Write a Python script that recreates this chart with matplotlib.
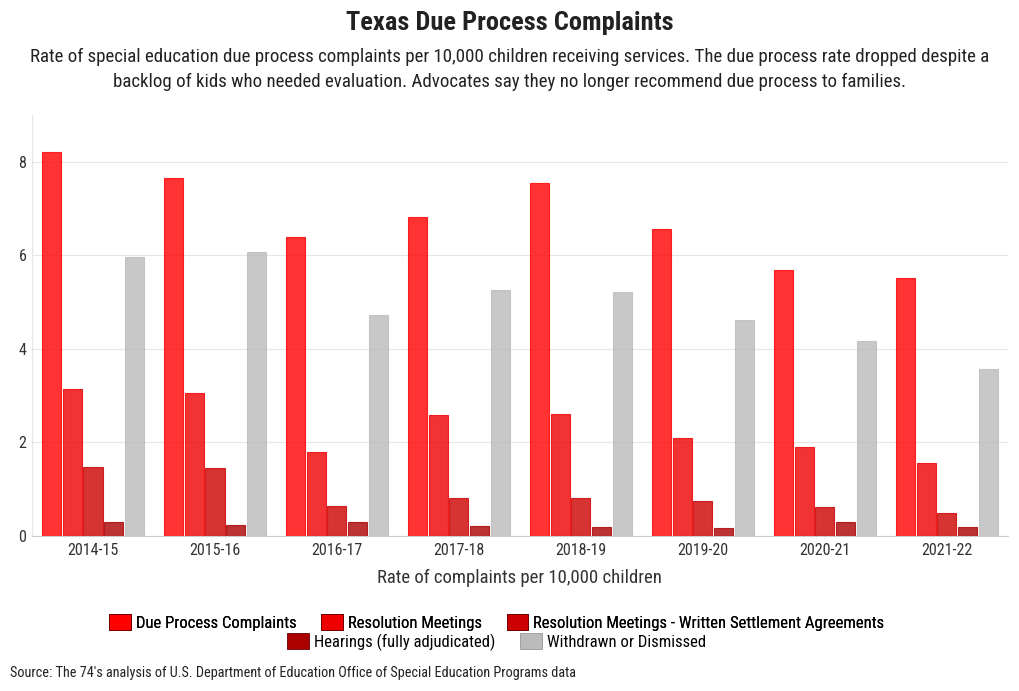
import matplotlib
matplotlib.use('Agg')
import matplotlib.pyplot as plt
import numpy as np
from matplotlib.patches import Patch

years = ['2014-15', '2015-16', '2016-17', '2017-18', '2018-19', '2019-20', '2020-21', '2021-22']
due_process = [8.20, 7.66, 6.39, 6.82, 7.55, 6.57, 5.69, 5.52]
resolution = [3.15, 3.05, 1.80, 2.58, 2.60, 2.10, 1.91, 1.55]
settlement = [1.48, 1.46, 0.64, 0.82, 0.82, 0.75, 0.62, 0.49]
hearings = [0.30, 0.24, 0.30, 0.21, 0.19, 0.17, 0.30, 0.19]
withdrawn = [5.97, 6.07, 4.72, 5.26, 5.21, 4.61, 4.16, 3.58]

names = ['Due Process Complaints', 'Resolution Meetings',
         'Resolution Meetings - Written Settlement Agreements',
         'Hearings (fully adjudicated)', 'Withdrawn or Dismissed']
colors = ['#ff0000', '#ee0000', '#cc0000', '#aa0000', '#bbbbbb']

narrow = ['Liberation Sans Narrow', 'Roboto Condensed', 'DejaVu Sans']
plt.rcParams['font.family'] = narrow

fig = plt.figure(figsize=(10.2, 6.91), dpi=100)
ax = fig.add_axes([0.0314, 0.2243, 0.9566, 0.6093])

series = [due_process, resolution, settlement, hearings, withdrawn]
x = np.arange(len(years))
w = 0.17
for i, vals in enumerate(series):
    ax.bar(x + (i - 2) * w, vals, width=w * 0.92, color=colors[i], alpha=0.8,
           edgecolor=colors[i], linewidth=0.8, zorder=3)

ax.set_xlim(-0.5, len(years) - 0.5)
ax.set_ylim(0, 9)
ax.set_yticks([0, 2, 4, 6, 8])
ax.set_xticks(x)
ax.set_xticklabels(years)
ax.grid(axis='y', color='#e6e6e6', linewidth=0.8, zorder=0)
for s in ['top', 'right']:
    ax.spines[s].set_visible(False)
ax.spines['left'].set_color('#e6e6e6')
ax.spines['bottom'].set_color('#cccccc')
ax.tick_params(axis='both', length=0, labelsize=11.5, colors='#333333', pad=5)
ax.tick_params(axis='y', pad=4)
ax.set_xlabel('Rate of complaints per 10,000 children', fontsize=13.5,
              color='#333333', labelpad=8)

fig.text(0.5, 0.966, 'Texas Due Process Complaints', ha='center', va='center',
         fontsize=19, fontweight='bold', color='#222222')
fig.text(0.5, 0.917, 'Rate of special education due process complaints per 10,000 children receiving services. '
         'The due process rate dropped despite a', ha='center', va='center',
         fontsize=13.6, color='#222222')
fig.text(0.5, 0.882, 'backlog of kids who needed evaluation. Advocates say they no longer recommend due process to families.',
         ha='center', va='center', fontsize=13.6, color='#222222')

handles = [Patch(facecolor=c, edgecolor='#660000' if c != '#bbbbbb' else '#999999', linewidth=0.6)
           for c in colors]
leg1 = fig.legend(handles[:3], names[:3], loc='center', bbox_to_anchor=(0.487, 0.099), ncol=3,
                  frameon=False, prop={'size': 12},
                  handlelength=1.3, handleheight=1.1, handletextpad=0.3, columnspacing=1.5)
leg2 = fig.legend(handles[3:], names[3:], loc='center', bbox_to_anchor=(0.487, 0.071), ncol=2,
                  frameon=False, prop={'size': 12},
                  handlelength=1.3, handleheight=1.1, handletextpad=0.3, columnspacing=1.5)
fig.add_artist(leg1)

fig.text(0.01, 0.026, "Source: The 74's analysis of U.S. Department of Education Office of Special Education Programs data",
         ha='left', va='center', fontsize=10.3, color='#222222')

fig.savefig('out.png', dpi=100)
